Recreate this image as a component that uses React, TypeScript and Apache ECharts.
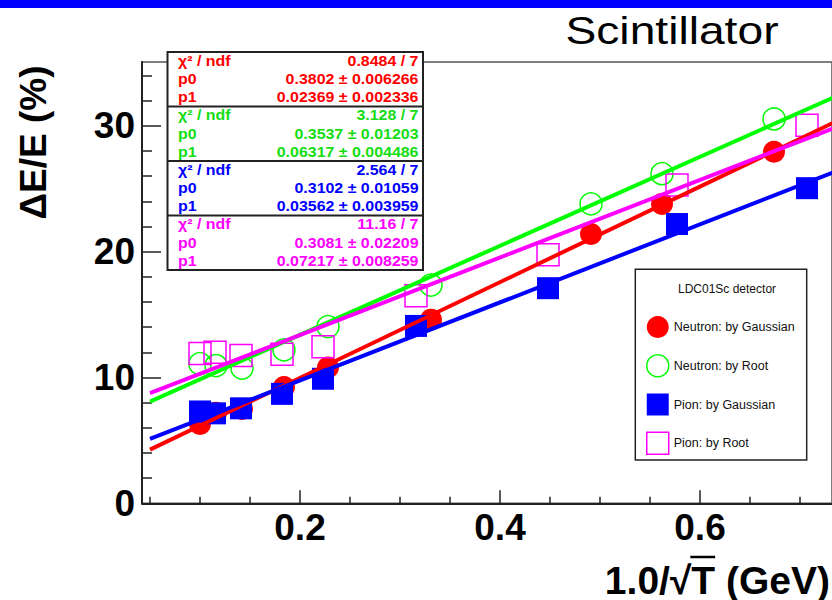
import React, { useEffect, useRef } from 'react';
import * as echarts from 'echarts';

const FONT = '"Liberation Sans", Arial, Helvetica, sans-serif';

// Resolution points: x = 1.0/sqrt(T) [GeV^-1/2], y = dE/E [%]
const NEUTRON_X = [0.1, 0.116, 0.142, 0.184, 0.228, 0.331, 0.491, 0.562, 0.674];
const NEUTRON_GAUSS = [6.3, 7.2, 7.5, 9.25, 10.8, 14.6, 21.4, 23.8, 27.95];
const NEUTRON_ROOT = [11.1, 10.95, 10.75, 12.2, 14.05, 17.35, 23.8, 26.2, 30.55];
const PION_X = [0.1, 0.115, 0.141, 0.182, 0.223, 0.316, 0.448, 0.577, 0.707];
const PION_GAUSS = [7.3, 7.15, 7.55, 8.7, 9.9, 14.1, 17.1, 22.2, 25.05];
const PION_ROOT = [11.9, 12.0, 11.75, 11.85, 12.45, 16.5, 19.75, 25.3, 30.05];

const SERIES_NAMES = ['Neutron: by Gaussian', 'Neutron: by Root', 'Pion: by Gaussian', 'Pion: by Root'];
const SERIES_COLORS = ['#ff0000', '#00ff00', '#0000ff', '#ff00ff'];
const TEXT_COLORS = ['#ff0000', '#14dd14', '#0000ff', '#ff00ff'];

// Linear fit results: dE/E = 100 * (p0 * x + p1)
const FIT_CHI2 = ['0.8484 / 7', '3.128 / 7', '2.564 / 7', '11.16 / 7'];
const FIT_P0 = [0.3802, 0.3537, 0.3102, 0.3081];
const FIT_P0_ERR = [0.006266, 0.01203, 0.01059, 0.02209];
const FIT_P1 = [0.02369, 0.06317, 0.03562, 0.07217];
const FIT_P1_ERR = [0.002336, 0.004486, 0.003959, 0.008259];
const FIT_RANGE = [0.05, 0.75];

const X_MAJOR = [0.2, 0.4, 0.6];
const X_MINOR = [0.05, 0.1, 0.15, 0.25, 0.3, 0.35, 0.45, 0.5, 0.55, 0.65, 0.7];
const Y_MAJOR = [0, 10, 20, 30];
const Y_MINOR = [2, 4, 6, 8, 12, 14, 16, 18, 22, 24, 26, 28, 32, 34];

const TITLE = 'Scintillator';
const LEGEND_TITLE = 'LDC01Sc detector';

function textWidth(s: string, font: string): number {
  const ctx = document.createElement('canvas').getContext('2d');
  if (!ctx) return s.length * 20;
  ctx.font = font;
  return ctx.measureText(s).width;
}

export default function App() {
  const ref = useRef<HTMLDivElement>(null);

  useEffect(() => {
    if (!ref.current) return;
    const chart = echarts.init(ref.current, null, { renderer: 'svg' });

    const pairs = (xs: number[], ys: number[]) => xs.map((x, i) => [x, ys[i]]);
    const pointSets = [
      pairs(NEUTRON_X, NEUTRON_GAUSS),
      pairs(NEUTRON_X, NEUTRON_ROOT),
      pairs(PION_X, PION_GAUSS),
      pairs(PION_X, PION_ROOT),
    ];
    const symbols = ['circle', 'circle', 'rect', 'rect'];
    const filled = [true, false, true, false];

    const itemStyleFor = (i: number) =>
      filled[i]
        ? { color: SERIES_COLORS[i], borderWidth: 0, opacity: 1 }
        : { color: 'rgba(255,255,255,0)', borderColor: SERIES_COLORS[i], borderWidth: 1.5, opacity: 1 };

    const series: any[] = [];
    for (let i = 0; i < 4; i++) {
      series.push({
        name: SERIES_NAMES[i],
        type: 'scatter',
        symbol: symbols[i],
        symbolSize: 22,
        data: pointSets[i],
        itemStyle: itemStyleFor(i),
        silent: true,
      });
      series.push({
        name: 'fit ' + SERIES_NAMES[i],
        type: 'line',
        symbol: 'none',
        clip: true,
        data: FIT_RANGE.map((x) => [x, 100 * (FIT_P0[i] * x + FIT_P1[i])]),
        lineStyle: { color: SERIES_COLORS[i], width: 4 },
        silent: true,
      });
    }

    // Statistics box with the fit parameters
    const statBox = { x: 167.5, y: 52, w: 255.5, h: 218 };
    const sectionH = statBox.h / 4;
    const rowOffsets = [8.5, 27, 45.3];
    const statFont = { fontSize: 14, fontWeight: 'bold', fontFamily: FONT };
    const statElems: any[] = [
      {
        type: 'rect',
        z: 10,
        shape: { x: statBox.x, y: statBox.y, width: statBox.w, height: statBox.h },
        style: { fill: '#fff', stroke: '#222', lineWidth: 2 },
      },
    ];
    for (let i = 0; i < 4; i++) {
      const top = statBox.y + i * sectionH;
      if (i > 0) {
        statElems.push({
          type: 'line',
          z: 11,
          shape: { x1: statBox.x, y1: top, x2: statBox.x + statBox.w, y2: top },
          style: { stroke: '#222', lineWidth: 2 },
        });
      }
      const labels = ['\u03c7\u00b2 / ndf', 'p0', 'p1'];
      const values = [
        FIT_CHI2[i],
        `${FIT_P0[i]} \u00b1 ${FIT_P0_ERR[i]}`,
        `${FIT_P1[i]} \u00b1 ${FIT_P1_ERR[i]}`,
      ];
      for (let r = 0; r < 3; r++) {
        const y = top + rowOffsets[r];
        statElems.push({
          type: 'text',
          z: 11,
          x: 178,
          y,
          scaleX: 1.14,
          style: { text: labels[r], fill: TEXT_COLORS[i], textAlign: 'left', textVerticalAlign: 'middle', ...statFont },
        });
        statElems.push({
          type: 'text',
          z: 11,
          x: 418.5,
          y,
          scaleX: 1.14,
          style: { text: values[r], fill: TEXT_COLORS[i], textAlign: 'right', textVerticalAlign: 'middle', ...statFont },
        });
      }
    }

    // X axis title with an overline for the square root
    const xTitleFont = `bold 39px ${FONT}`;
    const xTitleRight = 830;
    const tailW = textWidth(' (GeV)', xTitleFont);
    const tW = textWidth('T (GeV)', xTitleFont);
    const xTitleY = 580;
    const overlineY = 557;

    const graphic: any[] = [
      {
        type: 'rect',
        z: 20,
        shape: { x: 0, y: 0, width: 832, height: 8 },
        style: { fill: '#0000ff' },
      },
      {
        type: 'text',
        z: 20,
        x: 672,
        y: 30.5,
        scaleX: 1.2,
        style: {
          text: TITLE,
          fill: '#000',
          fontSize: 38.5,
          fontFamily: FONT,
          textAlign: 'center',
          textVerticalAlign: 'middle',
        },
      },
      {
        type: 'text',
        z: 20,
        x: 33,
        y: 142.5,
        rotation: Math.PI / 2,
        style: {
          text: '\u0394E/E (%)',
          fill: '#000',
          fontSize: 37,
          fontWeight: 'bold',
          fontFamily: FONT,
          textAlign: 'center',
          textVerticalAlign: 'middle',
        },
      },
      {
        type: 'text',
        z: 20,
        x: xTitleRight,
        y: xTitleY,
        style: {
          text: '1.0/\u221aT (GeV)',
          fill: '#000',
          font: xTitleFont,
          textAlign: 'right',
          textVerticalAlign: 'middle',
        },
      },
      {
        type: 'line',
        z: 20,
        shape: { x1: xTitleRight - tW - 1, y1: overlineY, x2: xTitleRight - tailW, y2: overlineY },
        style: { stroke: '#000', lineWidth: 2.5 },
      },
      // Legend frame and heading
      {
        type: 'rect',
        z: 3,
        shape: { x: 635.3, y: 269.3, width: 171.4, height: 190.7 },
        style: { fill: '#fff', stroke: '#222', lineWidth: 1.5 },
      },
      {
        type: 'text',
        z: 5,
        x: 678,
        y: 288.5,
        style: {
          text: LEGEND_TITLE,
          fill: '#111',
          fontSize: 12,
          fontFamily: FONT,
          textAlign: 'left',
          textVerticalAlign: 'middle',
        },
      },
      ...statElems,
    ];

    const axisLineStyle = { color: '#222', width: 2 };
    const tickStyle = { color: '#222', width: 1.5 };
    const tickLabel = { fontSize: 37, fontWeight: 'bold', fontFamily: FONT, color: '#000' };

    const option: any = {
      animation: false,
      backgroundColor: '#fff',
      grid: {
        left: 142,
        top: 62,
        width: 690,
        height: 441.3,
        show: true,
        borderColor: '#555',
        borderWidth: 1.5,
        backgroundColor: 'rgba(0,0,0,0)',
      },
      xAxis: [
        {
          type: 'value',
          min: 0.042,
          max: 0.732,
          position: 'bottom',
          axisLine: { show: true, onZero: false, lineStyle: axisLineStyle },
          axisTick: { show: true, inside: true, length: 13, customValues: X_MAJOR, lineStyle: tickStyle },
          axisLabel: {
            show: true,
            customValues: X_MAJOR,
            margin: 6,
            formatter: (v: number) => v.toFixed(1),
            ...tickLabel,
          },
          splitLine: { show: false },
        },
        {
          type: 'value',
          min: 0.042,
          max: 0.732,
          position: 'bottom',
          axisLine: { show: false },
          axisTick: { show: true, inside: true, length: 6.5, customValues: X_MINOR, lineStyle: tickStyle },
          axisLabel: { show: false },
          splitLine: { show: false },
        },
      ],
      yAxis: [
        {
          type: 'value',
          min: 0,
          max: 35.08,
          position: 'left',
          axisLine: { show: true, onZero: false, lineStyle: axisLineStyle },
          axisTick: { show: true, inside: true, length: 19, customValues: Y_MAJOR, lineStyle: tickStyle },
          axisLabel: { show: true, customValues: Y_MAJOR, margin: 7, ...tickLabel },
          splitLine: { show: false },
        },
        {
          type: 'value',
          min: 0,
          max: 35.08,
          position: 'left',
          axisLine: { show: false },
          axisTick: { show: true, inside: true, length: 10, customValues: Y_MINOR, lineStyle: tickStyle },
          axisLabel: { show: false },
          splitLine: { show: false },
        },
      ],
      legend: {
        orient: 'vertical',
        left: 646,
        top: 316,
        padding: 0,
        itemWidth: 22,
        itemHeight: 22,
        itemGap: 16,
        itemTextGap: 10,
        selectedMode: false,
        textStyle: { fontSize: 12.5, fontFamily: FONT, color: '#111' },
        data: SERIES_NAMES.map((name, i) => ({
          name,
          icon: symbols[i],
          itemStyle: itemStyleFor(i),
        })),
      },
      series,
      graphic,
    };

    chart.setOption(option);
    return () => chart.dispose();
  }, []);

  return (
    <div
      ref={ref}
      style={{ position: 'fixed', left: 0, top: 0, width: 832, height: 600, background: '#fff' }}
    />
  );
}
